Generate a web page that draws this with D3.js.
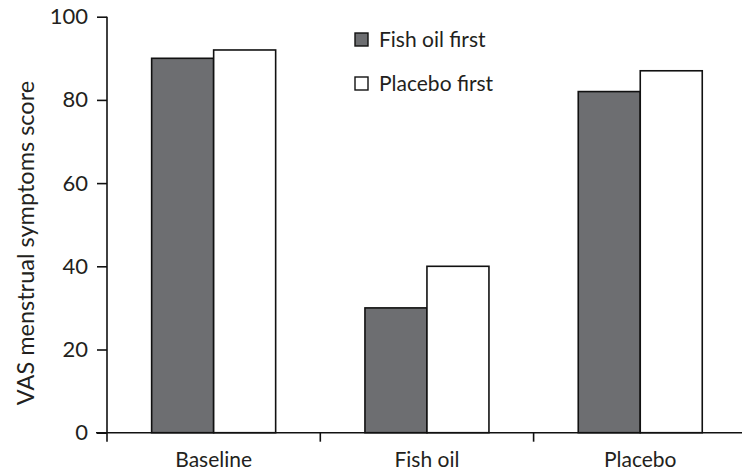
<!DOCTYPE html>
<html>
<head>
<meta charset="utf-8">
<script src="https://cdn.jsdelivr.net/npm/d3@7"></script>
<style>
  html, body { margin: 0; padding: 0; background: #fff; }
  svg text { font-family: "Lato", "Open Sans", sans-serif; fill: #231f20; }
</style>
</head>
<body>
<div id="chart"></div>
<script>
// chart data
const categories = ['Baseline', 'Fish oil', 'Placebo'];
const seriesNames = ['Fish oil first', 'Placebo first'];
const fishOilFirst = [90, 30, 82];
const placeboFirst = [92, 40, 87];
const yTicks = [0, 20, 40, 60, 80, 100];

const width = 742, height = 472;
const margin = { left: 107, top: 16.7, bottom: 39.3 };
const colors = ['#6d6e71', '#ffffff'];
const fontSize = 21;

const svg = d3.select('#chart').append('svg')
    .attr('width', width)
    .attr('height', height);

const y = d3.scaleLinear()
    .domain([0, 100])
    .range([height - margin.bottom, margin.top]);

const x = d3.scaleBand()
    .domain(categories)
    .range([margin.left, margin.left + 3 * 213.3]);

// two bars of ~62px centred in each band
const barW = 62;
const inner = d3.scaleBand()
    .domain(seriesNames)
    .range([0, x.bandwidth()])
    .paddingOuter((x.bandwidth() / barW - 2) / 2);

const rows = categories.map((c, i) => ({ cat: c, values: [fishOilFirst[i], placeboFirst[i]] }));

// bars
const groups = svg.selectAll('.grp')
    .data(rows)
    .enter().append('g')
    .attr('class', 'grp')
    .attr('transform', d => `translate(${x(d.cat)},0)`);

groups.selectAll('rect')
    .data(d => d.values.map((v, j) => ({ name: seriesNames[j], value: v, j })))
    .enter().append('rect')
    .attr('x', d => inner(d.name))
    .attr('y', d => y(d.value))
    .attr('width', inner.bandwidth())
    .attr('height', d => y(0) - y(d.value))
    .attr('fill', d => colors[d.j])
    .attr('stroke', '#111')
    .attr('stroke-width', 1.6);

// y axis
const yAxis = svg.append('g')
    .attr('transform', `translate(${margin.left},0)`)
    .call(d3.axisLeft(y).tickValues(yTicks).tickSize(10).tickSizeOuter(0).tickPadding(9));
yAxis.select('.domain').remove();
yAxis.attr('font-family', null).attr('font-size', null);
yAxis.selectAll('line').attr('stroke', '#111').attr('stroke-width', 1.6);
yAxis.selectAll('text').style('font-size', '22px').style('fill', '#231f20');

svg.append('line')
    .attr('x1', margin.left).attr('x2', margin.left)
    .attr('y1', y(100)).attr('y2', y(0) + 9)
    .attr('stroke', '#111').attr('stroke-width', 1.6);

// x axis
svg.append('line')
    .attr('x1', margin.left - 11).attr('x2', width)
    .attr('y1', y(0)).attr('y2', y(0))
    .attr('stroke', '#111').attr('stroke-width', 1.6);

const boundaries = categories.slice(1).map(c => x(c));
svg.selectAll('.xtick')
    .data(boundaries)
    .enter().append('line')
    .attr('class', 'xtick')
    .attr('x1', d => d).attr('x2', d => d)
    .attr('y1', y(0)).attr('y2', y(0) + 9)
    .attr('stroke', '#111').attr('stroke-width', 1.6);

const xAxis = svg.append('g')
    .attr('transform', `translate(0,${y(0)})`)
    .call(d3.axisBottom(x).tickSize(0).tickPadding(19));
xAxis.select('.domain').remove();
xAxis.attr('font-family', null).attr('font-size', null);
xAxis.selectAll('text').style('font-size', fontSize + 'px').style('fill', '#231f20');

// y axis title
svg.append('text')
    .attr('transform', `translate(34,243) rotate(-90)`)
    .attr('text-anchor', 'middle')
    .style('font-size', '23.5px')
    .text('VAS menstrual symptoms score');

// legend
const legend = svg.selectAll('.legend')
    .data(seriesNames)
    .enter().append('g')
    .attr('class', 'legend')
    .attr('transform', (d, i) => `translate(355,${33 + i * 44})`);

legend.append('rect')
    .attr('width', 13).attr('height', 13)
    .attr('fill', (d, i) => colors[i])
    .attr('stroke', '#111')
    .attr('stroke-width', 1.4);

legend.append('text')
    .attr('x', 24).attr('y', 14)
    .style('font-size', fontSize + 'px')
    .text(d => d);
</script>
</body>
</html>
